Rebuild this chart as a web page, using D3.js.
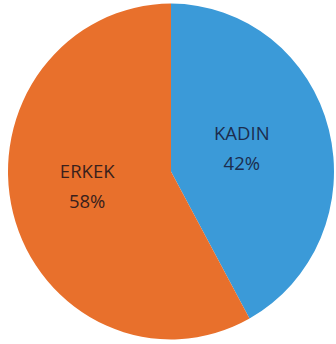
<!DOCTYPE html>
<html><head><meta charset="utf-8">
<script src="https://cdn.jsdelivr.net/npm/d3@7"></script>
<style>html,body{margin:0;padding:0;background:#fff;}svg{display:block;}</style>
</head><body>
<svg id="chart" width="336" height="344"></svg>
<script>
const categories = ["KADIN", "ERKEK"];
const values = [42, 58];
const colors = ["#3b9ad8", "#e8702c"];
const textColors = ["#1c2d4e", "#3a1f1c"];

const svg = d3.select("#chart");
const cx = 171, cy = 171.5, r = 163;
const g = svg.append("g").attr("transform", `translate(${cx},${cy}) scale(1,1.03)`);

const pie = d3.pie().sort(null).value(d => d.v);
const data = pie(categories.map((c, i) => ({c, v: values[i], i})));
const arc = d3.arc().innerRadius(0).outerRadius(r);

g.selectAll("path").data(data).join("path")
  .attr("d", arc)
  .attr("fill", d => colors[d.data.i]);

const labelArc = d3.arc().innerRadius(r * 0.55).outerRadius(r * 0.55);
const offsets = [[-16, -16], [3, -22]];
const lg = svg.append("g").attr("transform", `translate(${cx},${cy})`);
data.forEach(d => {
  let [x, y] = labelArc.centroid(d);
  x += offsets[d.data.i][0];
  y += offsets[d.data.i][1];
  const t = lg.append("text")
    .attr("text-anchor", "middle")
    .attr("font-family", "'Open Sans', 'Noto Sans', sans-serif")
    .attr("font-size", 18.5)
    .attr("fill", textColors[d.data.i]);
  t.append("tspan").attr("x", x).attr("y", y).attr("dy", "0.35em").text(d.data.c);
  t.append("tspan").attr("x", x).attr("y", y + 30).attr("dy", "0.35em").text(d.data.v + "%");
});
</script>
</body></html>
